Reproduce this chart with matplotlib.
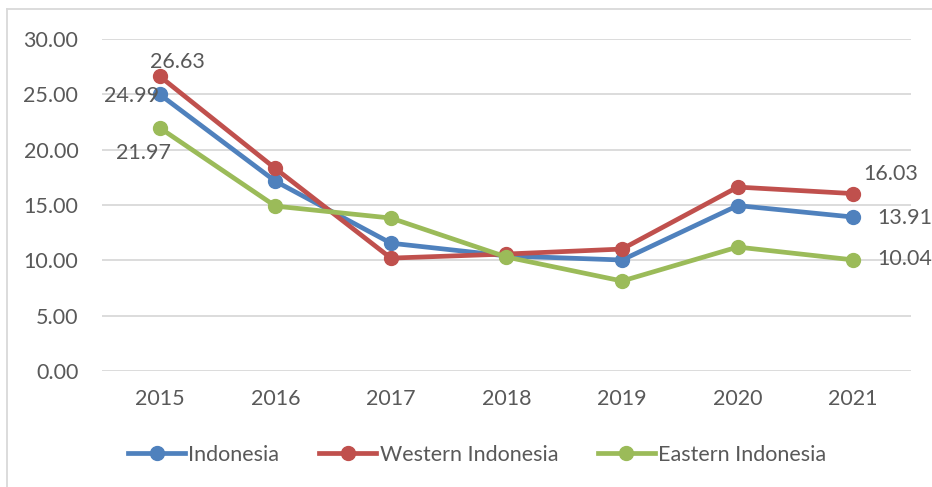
import matplotlib.pyplot as plt
from matplotlib.lines import Line2D

plt.rcParams['font.family'] = ['Lato', 'DejaVu Sans']

years = ['2015', '2016', '2017', '2018', '2019', '2020', '2021']
indonesia = [24.99, 17.15, 11.55, 10.40, 10.03, 14.95, 13.91]
western = [26.63, 18.30, 10.20, 10.57, 11.02, 16.62, 16.03]
eastern = [21.97, 14.90, 13.82, 10.30, 8.13, 11.20, 10.04]

blue = '#4F81BD'
red = '#C0504D'
green = '#9BBB59'
txt = '#595959'

fig = plt.figure(figsize=(9.32, 4.87), dpi=100)
ax = fig.add_axes([0.1094, 0.2382, 0.8681, 0.6817])

x = range(len(years))
ax.plot(x, indonesia, color=blue, lw=3.4, marker='o', ms=10, label='Indonesia', zorder=3)
ax.plot(x, western, color=red, lw=3.4, marker='o', ms=10, label='Western Indonesia', zorder=3)
ax.plot(x, eastern, color=green, lw=3.4, marker='o', ms=10, label='Eastern Indonesia', zorder=3)

fs = 15.5
ax.set_xlim(-0.5, len(years) - 0.5)
ax.set_ylim(0, 30)
ax.set_yticks([0, 5, 10, 15, 20, 25, 30])
ax.set_yticklabels(['%.2f' % v for v in [0, 5, 10, 15, 20, 25, 30]])
ax.set_xticks(list(x))
ax.set_xticklabels(years)
ax.tick_params(length=0, labelsize=fs, colors=txt)
ax.tick_params(axis='y', pad=17)
ax.tick_params(axis='x', pad=13)
ax.grid(axis='y', color='#D9D9D9', lw=1.3)
ax.set_axisbelow(True)
for s in ax.spines.values():
    s.set_visible(False)

# data labels at the ends (offsets in points)
labels = [
    (0, western[0], 13, 10),
    (0, indonesia[0], -20, -1),
    (0, eastern[0], -11.5, -18),
    (6, western[-1], 27, 14),
    (6, indonesia[-1], 37, -0.5),
    (6, eastern[-1], 37, 0.5),
]
for xi, v, dx, dy in labels:
    ax.annotate('%.2f' % v, (xi, v), xytext=(dx, dy), textcoords='offset points',
                ha='center', va='center', fontsize=fs, color=txt)

leg = fig.legend(loc='center', bbox_to_anchor=(0.512, 0.066), ncol=3, frameon=False,
                 fontsize=fs, handlelength=2.65, handletextpad=0.15, columnspacing=1.85)
for t in leg.get_texts():
    t.set_color(txt)

# chart frame (cropped on right and bottom)
fig.add_artist(Line2D([7 / 932, 7 / 932], [0, 1 - 9 / 487], transform=fig.transFigure,
                      color='#D9D9D9', lw=1.3))
fig.add_artist(Line2D([7 / 932, 1], [1 - 9 / 487, 1 - 9 / 487], transform=fig.transFigure,
                      color='#D9D9D9', lw=1.3))

fig.savefig('out.png', dpi=100)
